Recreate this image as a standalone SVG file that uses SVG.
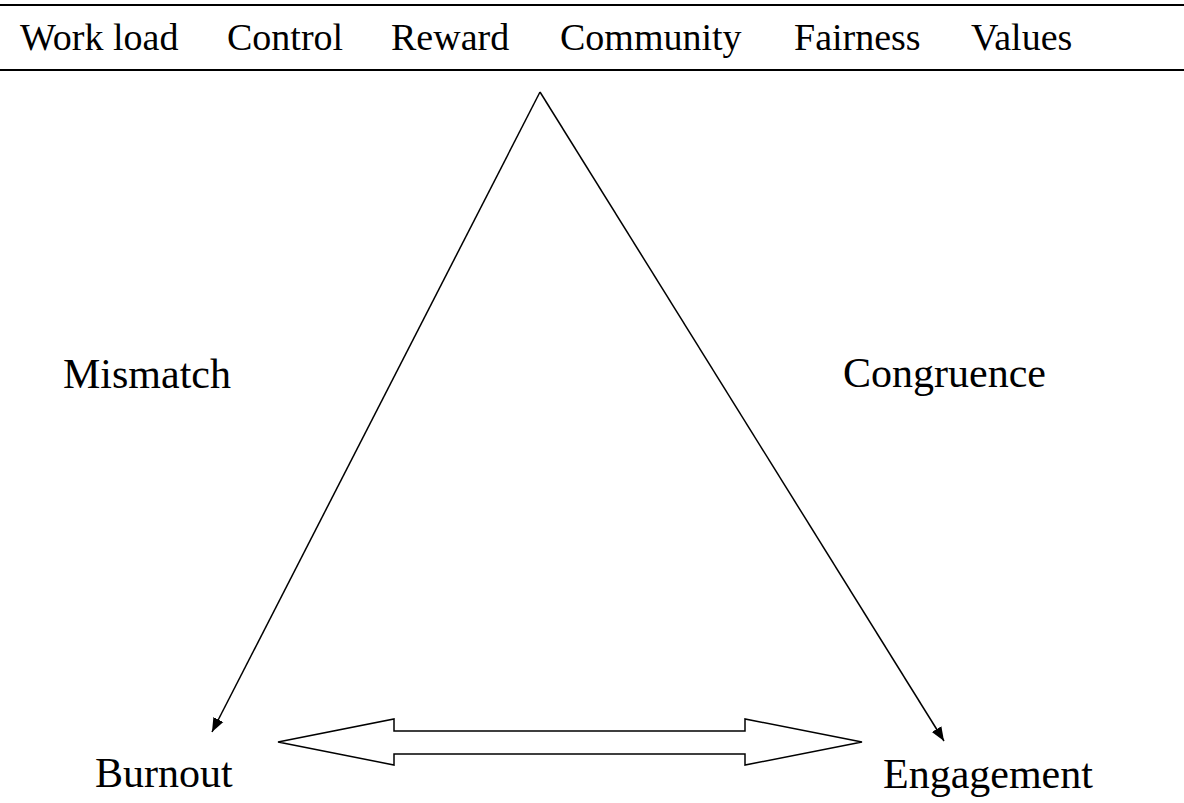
<svg xmlns="http://www.w3.org/2000/svg" width="1184" height="803" viewBox="0 0 1184 803">
<defs>
<style>
text{font-family:"Liberation Serif","Times New Roman",serif;fill:#000}
.hd{font-size:38px}
.lb{font-size:42px}
.ln{stroke:#000;stroke-width:1.5;fill:none}
.rule{stroke:#000;stroke-width:2}
</style>
<marker id="ah" viewBox="0 0 10 10" refX="10" refY="5" markerWidth="14" markerHeight="14" markerUnits="userSpaceOnUse" orient="auto">
<path d="M0,1 L10,5 L0,9 z" fill="#000"/>
</marker>
</defs>
<rect width="1184" height="803" fill="#fff"/>
<g id="header">
<line class="rule" x1="0" y1="5" x2="1184" y2="5"/>
<line class="rule" x1="0" y1="70" x2="1184" y2="70"/>
<text class="hd" x="20" y="50">Work load</text>
<text class="hd" x="227" y="50">Control</text>
<text class="hd" x="391" y="50">Reward</text>
<text class="hd" x="560" y="50">Community</text>
<text class="hd" x="794" y="50">Fairness</text>
<text class="hd" x="971" y="50">Values</text>
</g>
<g id="connectors">
<line class="ln" x1="540" y1="92" x2="212" y2="732" marker-end="url(#ah)"/>
<line class="ln" x1="540" y1="92" x2="944" y2="741" marker-end="url(#ah)"/>
<path id="double-arrow" d="M278,742 L394,719 L394,731 L745,731 L745,719 L862,742 L745,765 L745,754 L394,754 L394,765 Z" fill="#fff" stroke="#000" stroke-width="1.5"/>
</g>
<g id="mismatch"><text class="lb" x="63" y="388">Mismatch</text></g>
<g id="congruence"><text class="lb" x="843" y="387">Congruence</text></g>
<g id="burnout"><text class="lb" x="95" y="787">Burnout</text></g>
<g id="engagement"><text class="lb" x="883" y="788">Engagement</text></g>
</svg>
